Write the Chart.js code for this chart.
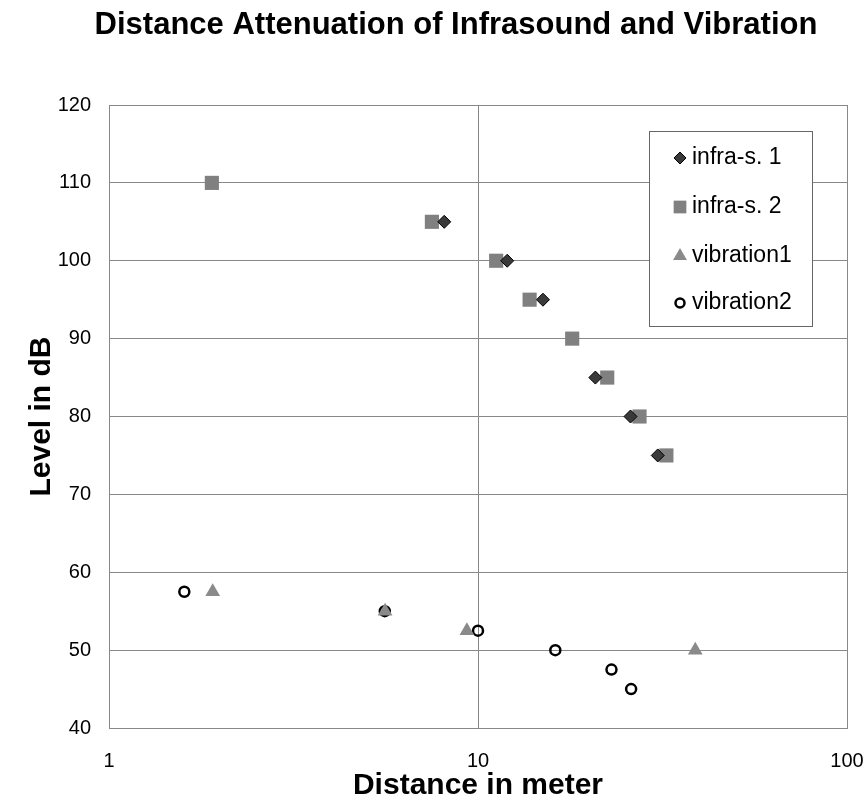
<!DOCTYPE html>
<html>
<head>
<meta charset="utf-8">
<title>Distance Attenuation of Infrasound and Vibration</title>
<script src="https://cdn.jsdelivr.net/npm/chart.js@4.4.1/dist/chart.umd.min.js"></script>
<style>
  body { margin: 0; background: #fff; }
</style>
</head>
<body>
<canvas id="myChart" width="867" height="809"></canvas>
<script>
// values
const seriesNames = ['infra-s. 1', 'infra-s. 2', 'vibration1', 'vibration2']
const chartTitle = 'Distance Attenuation of Infrasound and Vibration'

const infra1Dist = [8.1, 12, 15, 20.8, 25.9, 30.7]
const infra1Level = [105, 100, 95, 85, 80, 75]

const infra2Dist = [1.9, 7.5, 11.2, 13.8, 18, 22.4, 27.4, 32.4]
const infra2Level = [110, 105, 100, 95, 90, 85, 80, 75]

const vib1Dist = [1.91, 5.6, 9.33, 38.8]
const vib1Level = [57.5, 55, 52.5, 50]

const vib2Dist = [1.6, 5.59, 10, 16.2, 23, 26]
const vib2Level = [57.5, 55, 52.5, 50, 47.5, 45]

const xTicks = [1, 10, 100]

function pairs(xs, ys) {
    return xs.map((x, i) => ({ x: x, y: ys[i] }))
}

const font = 'Liberation Sans, Arial, sans-serif'

// title sits a bit right of the page centre, so it is drawn here
const topTitle = {
    id: 'topTitle',
    afterDraw(chart) {
        const ctx = chart.ctx
        ctx.save()
        ctx.fillStyle = '#000'
        ctx.font = 'bold 31px ' + font
        ctx.textAlign = 'center'
        ctx.textBaseline = 'middle'
        ctx.fillText(chartTitle, 456, 25)
        ctx.restore()
    }
}

// legend drawn inside the plot as a boxed list
const boxLegend = {
    id: 'boxLegend',
    afterDraw(chart) {
        const ctx = chart.ctx
        const left = 649, top = 131, right = 812, bottom = 326
        ctx.save()
        ctx.fillStyle = '#fff'
        ctx.fillRect(left, top, right - left, bottom - top)
        ctx.strokeStyle = '#666'
        ctx.lineWidth = 1
        ctx.strokeRect(left + 0.5, top + 0.5, right - left, bottom - top)
        const rows = [158, 207, 256, 303]
        chart.data.datasets.forEach((ds, i) => {
            const y = rows[i]
            ctx.fillStyle = ds.backgroundColor
            ctx.strokeStyle = ds.borderColor
            ctx.lineWidth = ds.borderWidth
            Chart.helpers.drawPoint(ctx, {
                pointStyle: ds.pointStyle,
                radius: ds.legendRadius,
                borderWidth: ds.borderWidth,
                rotation: 0
            }, 680, y)
            ctx.fillStyle = '#000'
            ctx.font = '23px ' + font
            ctx.textAlign = 'left'
            ctx.textBaseline = 'middle'
            ctx.fillText(ds.label, 692, y)
        })
        ctx.restore()
    }
}

const ctx = document.getElementById('myChart')

new Chart(ctx, {
    type: 'scatter',
    data: {
        datasets: [{
            label: seriesNames[0],
            data: pairs(infra1Dist, infra1Level),
            pointStyle: 'rectRot',
            pointRadius: 6.5,
            legendRadius: 6,
            backgroundColor: '#3a3a3a',
            borderColor: '#000',
            borderWidth: 1
        }, {
            label: seriesNames[1],
            data: pairs(infra2Dist, infra2Level),
            pointStyle: 'rect',
            pointRadius: 10,
            legendRadius: 9,
            backgroundColor: '#808080',
            borderColor: '#808080',
            borderWidth: 0
        }, {
            label: seriesNames[2],
            data: pairs(vib1Dist, vib1Level),
            pointStyle: 'triangle',
            pointRadius: 8.5,
            legendRadius: 8,
            backgroundColor: '#8a8a8a',
            borderColor: '#8a8a8a',
            borderWidth: 0
        }, {
            label: seriesNames[3],
            data: pairs(vib2Dist, vib2Level),
            pointStyle: 'circle',
            pointRadius: 5,
            legendRadius: 4.5,
            backgroundColor: 'rgba(0,0,0,0)',
            borderColor: '#000',
            borderWidth: 2.5
        }]
    },
    options: {
        responsive: false,
        animation: false,
        layout: { padding: { left: 0, right: 2, top: 105, bottom: 0 } },
        plugins: {
            legend: { display: false },
            tooltip: { enabled: false },
            title: { display: false }
        },
        scales: {
            x: {
                type: 'logarithmic',
                min: 1,
                max: 100,
                afterBuildTicks: s => { s.ticks = xTicks.map(v => ({ value: v })) },
                afterFit: s => {
                    s.height = 81
                    s.paddingLeft = 0
                    s.paddingRight = 20
                },
                ticks: {
                    callback: v => String(v),
                    color: '#000',
                    font: { family: font, size: 20 },
                    padding: 21,
                    maxRotation: 0
                },
                grid: { color: '#888', drawTicks: false },
                border: { color: '#888' },
                title: {
                    display: true,
                    text: 'Distance in meter',
                    color: '#000',
                    font: { family: font, size: 30, weight: 'bold' },
                    padding: { top: 0, bottom: 5 }
                }
            },
            y: {
                min: 40,
                max: 120,
                afterFit: s => { s.width = 109 },
                ticks: {
                    stepSize: 10,
                    color: '#000',
                    font: { family: font, size: 20 },
                    padding: 18
                },
                grid: { color: '#888', drawTicks: false },
                border: { color: '#888' },
                title: {
                    display: true,
                    text: 'Level in dB',
                    color: '#000',
                    font: { family: font, size: 30, weight: 'bold' },
                    padding: { top: 24, bottom: 0 }
                }
            }
        }
    },
    plugins: [topTitle, boxLegend]
})
</script>
</body>
</html>
